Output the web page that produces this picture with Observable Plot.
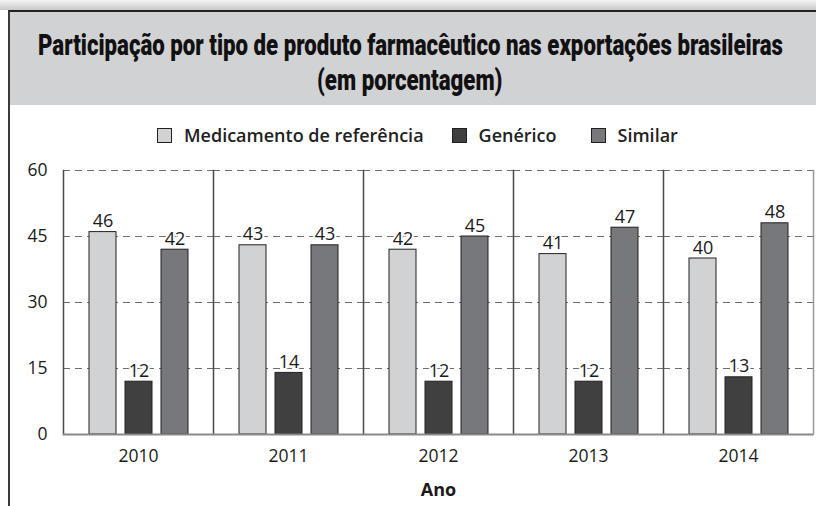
<!DOCTYPE html>
<html>
<head>
<meta charset="utf-8">
<script src="https://cdn.jsdelivr.net/npm/d3@7"></script>
<script src="https://cdn.jsdelivr.net/npm/@observablehq/plot@0.6"></script>
<style>
  html, body { margin: 0; padding: 0; background: #fff; }
  #page { position: relative; width: 816px; height: 506px; overflow: hidden; background: #fff; }
  #topbar { position: absolute; left: 0; top: 0; width: 816px; height: 10px;
    background: linear-gradient(#f4f4f4, #c9c9c9); }
  #box { position: absolute; left: 8px; top: 10px; width: 808px; height: 496px;
    border-left: 2px solid #3a3a3a; border-top: 2px solid #222; box-sizing: border-box; }
  #titlepanel { position: absolute; left: 10px; top: 12px; width: 806px; height: 93px; background: #d1d2d4; }
  .tline { position: absolute; left: 0; white-space: nowrap; transform-origin: 0 0;
    font-family: Roboto, sans-serif; font-weight: 900; font-size: 29px; line-height: 32px; color: #111; }
  #legend { position: absolute; left: 157px; top: 123px; display: flex; align-items: center;
    font-family: "Open Sans", sans-serif; font-weight: 600; font-size: 18px; color: #222; }
  .sw { width: 13px; height: 13px; border: 1px solid #231f20; margin-right: 12px; }
  .item { display: flex; align-items: center; }
  #chart { position: absolute; left: 0; top: 155px; }
</style>
</head>
<body>
<div id="page">
  <div id="topbar"></div>
  <div id="titlepanel"></div>
  <div id="box"></div>
  <span class="tline" id="t1">Participação por tipo de produto farmacêutico nas exportações brasileiras</span>
  <span class="tline" id="t2">(em porcentagem)</span>
  <div id="legend"></div>
  <div id="chart"></div>
</div>
<script>
const years = ["2010", "2011", "2012", "2013", "2014"];
const series = ["Medicamento de referência", "Genérico", "Similar"];
const referencia = [46, 43, 42, 41, 40];
const generico = [12, 14, 12, 12, 13];
const similar = [42, 43, 45, 47, 48];
const colors = ["#d1d2d4", "#404041", "#77787b"];
const yTicks = [0, 15, 30, 45, 60];

const valuesBySeries = [referencia, generico, similar];
const data = years.flatMap((year, i) =>
  series.map((serie, j) => ({year, serie, value: valuesBySeries[j][i]}))
);

// Title: condensed look by horizontal scaling to the reference width
const t1 = document.getElementById("t1"), t2 = document.getElementById("t2");
const w1 = t1.getBoundingClientRect().width;
const k = 745 / w1;
const w2 = t2.getBoundingClientRect().width * k;
const cx = 410;
t1.style.transform = `scaleX(${k})`; t1.style.left = (cx - 745 / 2) + "px"; t1.style.top = "29px";
t2.style.transform = `scaleX(${k})`; t2.style.left = (cx - w2 / 2) + "px"; t2.style.top = "64px";

// HTML legend
const legend = document.getElementById("legend");
const gaps = [28, 34, 0];
series.forEach((s, j) => {
  const item = document.createElement("div");
  item.className = "item";
  item.style.marginRight = gaps[j] + "px";
  const sw = document.createElement("div");
  sw.className = "sw";
  sw.style.background = colors[j];
  const label = document.createElement("span");
  label.textContent = s;
  item.appendChild(sw);
  item.appendChild(label);
  legend.appendChild(item);
});

const chart = Plot.plot({
  width: 816,
  height: 351,
  marginTop: 15,
  marginBottom: 72,
  marginLeft: 62,
  marginRight: 3,
  style: {fontFamily: "'Open Sans', sans-serif", fontSize: "17px", color: "#1a1a1a", background: "transparent"},
  fx: {domain: years, padding: 0, label: "Ano"},
  x: {domain: series, paddingInner: 0.26, paddingOuter: 0.685, axis: null},
  y: {domain: [0, 60], ticks: yTicks},
  color: {domain: series, range: colors},
  marks: [
    Plot.ruleY(yTicks.filter(v => v > 0), {stroke: "#6d6e71", strokeDasharray: "7,5"}),
    Plot.frame({anchor: "left", stroke: "#4a4a4a", strokeWidth: 1.5}),
    Plot.frame({anchor: "right", facetAnchor: "right", stroke: "#999", strokeWidth: 1.5}),
    Plot.barY(data, {fx: "year", x: "serie", y: "value", fill: "serie", stroke: "#231f20", strokeWidth: 1}),
    Plot.ruleY([0], {stroke: "#8a8a8a", strokeWidth: 2}),
    Plot.text(data, {fx: "year", x: "serie", y: "value", text: d => String(d.value),
      dy: -5, lineAnchor: "bottom", fontSize: 18, fill: "#1a1a1a", stroke: "white", strokeWidth: 4}),
    Plot.axisY({ticks: yTicks, tickSize: 0, tickPadding: 16, label: null, fontSize: 17.5}),
    Plot.axisFx({anchor: "bottom", tickSize: 0, tickPadding: 15, label: "Ano", labelAnchor: "center", labelOffset: 61, fontSize: 17.5})
  ]
});
document.getElementById("chart").appendChild(chart);
d3.select(chart).selectAll('[aria-label="fx-axis label"]').attr("font-weight", "bold").attr("font-size", 18);
</script>
</body>
</html>
